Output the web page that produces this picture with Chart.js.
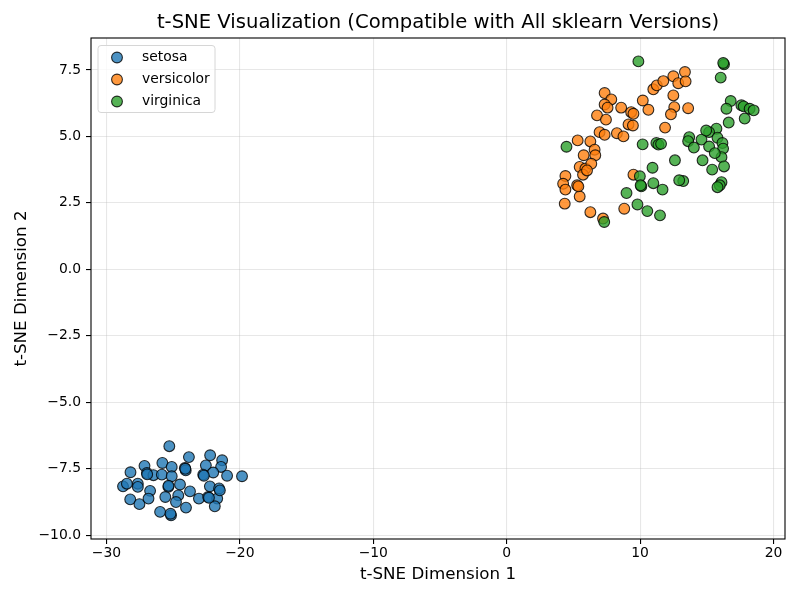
<!DOCTYPE html>
<html><head><meta charset="utf-8">
<script src="https://cdn.jsdelivr.net/npm/chart.js@4.4.0/dist/chart.umd.min.js"></script>
<style>html,body{margin:0;padding:0;background:#fff}#wrap{width:800px;height:600px}</style>
</head><body><div id="wrap"><canvas id="c" width="800" height="600"></canvas></div>
<script>
const seriesNames = ['setosa', 'versicolor', 'virginica'];
const chartTitle = 't-SNE Visualization (Compatible with All sklearn Versions)';
const xLabel = 't-SNE Dimension 1';
const yLabel = 't-SNE Dimension 2';
const xTicks = [-30, -20, -10, 0, 10, 20];
const yTicks = [-10, -7.5, -5, -2.5, 0, 2.5, 5, 7.5];

const setosaX = [-25.29,-23.82,-22.23,-21.33,-27.15,-25.81,-25.11,-24.12,-24.06,-22.55,
  -21.41,-28.20,-26.97,-26.48,-25.85,-25.11,-22.75,-22.00,-20.96,-19.84,
  -28.76,-28.47,-27.65,-27.65,-26.73,-25.36,-24.49,-23.74,-22.25,-21.56,
  -28.22,-27.53,-26.85,-25.59,-24.62,-24.79,-23.07,-22.38,-21.70,-24.04,
  -21.88,-25.98,-25.16,-25.20,-21.50,-22.32,-22.70,-26.95,-25.35,-24.09];
const setosaY = [-6.65,-7.06,-6.99,-7.18,-7.39,-7.28,-7.43,-7.47,-7.56,-7.37,
  -7.43,-7.63,-7.66,-7.74,-7.72,-7.78,-7.72,-7.64,-7.76,-7.78,
  -8.16,-8.06,-8.06,-8.18,-8.33,-8.18,-8.09,-8.35,-8.16,-8.24,
  -8.65,-8.83,-8.62,-8.56,-8.50,-8.75,-8.62,-8.56,-8.62,-8.96,
  -8.91,-9.12,-9.25,-9.19,-8.31,-8.59,-7.76,-7.71,-8.14,-7.50];

const versicolorX = [7.34,7.84,7.34,7.56,8.58,6.77,7.44,9.33,9.50,9.13,
  9.46,10.20,10.62,10.99,11.25,11.74,12.49,12.86,13.36,13.41,
  12.49,12.56,12.31,13.60,11.87,6.96,7.34,8.26,8.75,5.32,
  6.27,6.59,5.77,6.64,5.47,5.90,6.34,4.40,5.72,6.02,
  4.23,5.28,4.40,5.47,4.35,6.27,8.81,7.22,9.50,5.37];
const versicolorY = [6.63,6.39,6.20,6.08,6.08,5.79,5.63,5.91,5.85,5.45,
  5.41,6.35,6.00,6.77,6.92,7.08,7.26,7.00,7.42,7.07,
  6.54,6.10,5.83,6.06,5.33,5.16,5.06,5.12,5.00,4.85,
  4.81,4.50,4.29,4.29,3.85,3.79,3.97,3.51,3.56,3.72,
  3.22,3.16,3.00,2.74,2.47,2.15,2.28,1.91,3.56,3.12];

const virginicaX = [9.87,16.29,16.23,16.04,16.79,16.47,17.59,17.76,18.21,18.51,
  17.84,16.64,15.72,15.17,13.68,13.60,14.60,15.80,16.17,16.22,
  16.10,14.03,15.17,15.60,14.68,16.29,15.40,16.10,15.97,15.80,
  13.23,12.93,12.61,4.48,10.19,11.22,11.37,11.57,10.93,9.98,
  10.09,10.04,10.99,11.68,8.98,9.80,10.54,11.49,7.31,14.95];
const virginicaY = [7.82,7.71,7.76,7.21,6.33,6.04,6.17,6.13,6.04,5.98,
  5.67,5.52,5.29,5.16,4.97,4.82,4.88,4.95,4.75,4.54,
  4.22,4.58,4.62,4.37,4.10,3.87,3.75,3.28,3.16,3.09,
  3.32,3.35,4.10,4.61,4.70,4.75,4.69,4.72,3.82,3.50,
  3.12,3.16,3.24,3.00,2.87,2.44,2.19,2.03,1.78,5.22];

const faceColors = ['rgba(31,119,180,0.8)', 'rgba(255,127,14,0.8)', 'rgba(44,160,44,0.8)'];
const edgeColor = 'rgba(0,0,0,0.8)';
const FONT = 'DejaVu Sans';

function pts(xs, ys) { return xs.map((x, i) => ({ x: x, y: ys[i] })); }
function minus(s) { return s.replace('-', '\u2212'); }

const allX = [setosaX, versicolorX, virginicaX];
const allY = [setosaY, versicolorY, virginicaY];

const datasets = seriesNames.map((name, i) => ({
  label: name,
  data: pts(allX[i], allY[i]),
  backgroundColor: faceColors[i],
  borderColor: edgeColor,
  borderWidth: 1.1,
  pointRadius: 5.4,
  pointHoverRadius: 5.4,
  order: 3 - i
}));

const framePlugin = {
  id: 'frame',
  afterDatasetsDraw(chart) {
    const { ctx, chartArea: a } = chart;
    ctx.save();
    ctx.strokeStyle = '#000';
    ctx.lineWidth = 1.1;
    ctx.strokeRect(a.left, a.top, a.right - a.left, a.bottom - a.top);
    ctx.restore();
  },
  afterDraw(chart) {
    const { ctx, chartArea: a } = chart;
    ctx.save();
    // title centred over the plot area
    ctx.font = '19.6px "' + FONT + '"';
    ctx.fillStyle = '#000';
    ctx.textAlign = 'center';
    ctx.textBaseline = 'middle';
    ctx.fillText(chartTitle, (a.left + a.right) / 2, 23);
    // legend
    const x0 = a.left + 7, y0 = a.top + 7.5, w = 117, h = 67;
    ctx.beginPath();
    ctx.roundRect(x0, y0, w, h, 3);
    ctx.fillStyle = 'rgba(255,255,255,0.8)';
    ctx.fill();
    ctx.strokeStyle = '#d6d6d6';
    ctx.lineWidth = 1;
    ctx.stroke();
    ctx.font = '13.9px "' + FONT + '"';
    ctx.textBaseline = 'middle';
    ctx.textAlign = 'left';
    chart.data.datasets.forEach((ds, i) => {
      const cy = y0 + 12 + 22 * i;
      ctx.beginPath();
      ctx.arc(x0 + 19, cy, 5.4, 0, Math.PI * 2);
      ctx.fillStyle = ds.backgroundColor;
      ctx.fill();
      ctx.strokeStyle = ds.borderColor;
      ctx.lineWidth = 1.1;
      ctx.stroke();
      ctx.fillStyle = '#000';
      ctx.fillText(ds.label, x0 + 44, cy);
    });
    ctx.restore();
  }
};

new Chart(document.getElementById('c'), {
  type: 'scatter',
  data: { datasets: datasets },
  options: {
    responsive: false,
    animation: false,
    devicePixelRatio: 1,
    layout: { padding: { left: 0, right: 15, top: 38, bottom: 0 } },
    plugins: {
      legend: { display: false },
      tooltip: { enabled: false },
      title: { display: false }
    },
    scales: {
      x: {
        type: 'linear',
        min: -31.16, max: 20.86,
        afterBuildTicks: s => { s.ticks = xTicks.map(v => ({ value: v })); },
        afterFit: s => { s.height = 61; },
        ticks: {
          callback: v => minus(String(v)),
          color: '#000',
          font: { family: FONT, size: 13.9 },
          padding: 1,
          maxRotation: 0,
          autoSkip: false
        },
        grid: { color: 'rgba(176,176,176,0.3)', lineWidth: 1.1, tickColor: '#000', tickLength: 5, tickWidth: 1.1, drawTicks: true },
        border: { display: false },
        title: { display: true, text: xLabel, color: '#000', font: { family: FONT, size: 16.7 }, padding: { top: 4, bottom: 15 } }
      },
      y: {
        type: 'linear',
        min: -10.14, max: 8.70,
        afterBuildTicks: s => { s.ticks = yTicks.map(v => ({ value: v })); },
        afterFit: s => { s.width = 91; },
        ticks: {
          callback: v => minus(Number(v).toFixed(1)),
          color: '#000',
          font: { family: FONT, size: 13.9 },
          padding: 5,
          autoSkip: false
        },
        grid: { color: 'rgba(176,176,176,0.3)', lineWidth: 1.1, tickColor: '#000', tickLength: 5, tickWidth: 1.1, drawTicks: true },
        border: { display: false },
        title: { display: true, text: yLabel, color: '#000', font: { family: FONT, size: 16.7 }, padding: { top: 12, bottom: 4 } }
      }
    }
  },
  plugins: [framePlugin]
});
</script>
</body></html>
